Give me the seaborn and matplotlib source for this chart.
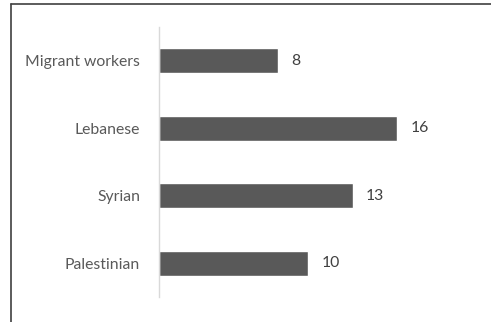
import matplotlib
matplotlib.use("Agg")
import matplotlib.pyplot as plt
import seaborn as sns
import pandas as pd
from matplotlib.lines import Line2D

categories = ["Migrant workers", "Lebanese", "Syrian", "Palestinian"]
values = [8, 16, 13, 10]

sns.set_theme(style="white")
plt.rcParams["font.family"] = ["Lato", "DejaVu Sans"]

W, H = 491, 322
fig = plt.figure(figsize=(W / 100, H / 100), dpi=100)
ax = fig.add_axes([159 / W, 1 - 297 / H, 298 / W, 270 / H])

df = pd.DataFrame({"category": categories, "value": values})
sns.barplot(data=df, x="value", y="category", orient="h", color="#595959",
            width=0.37, saturation=1, ax=ax)

ax.set_xlim(0, 20)
ax.set_ylim(3.5, -0.5)
ax.set_xlabel("")
ax.set_ylabel("")
ax.set_xticks([])
for s in ["top", "right", "bottom"]:
    ax.spines[s].set_visible(False)
ax.spines["left"].set_color("#d9d9d9")
ax.spines["left"].set_linewidth(1.0)
ax.tick_params(axis="y", length=0, pad=13.5, labelsize=11.3, labelcolor="#595959")

for i, v in enumerate(values):
    ax.text(v + 0.9, i, str(v), va="center", ha="left", fontsize=11.3, color="#404040")

# outer frame (partially visible)
fig.add_artist(Line2D([11 / W, 11 / W], [0, 1 - 4 / H], transform=fig.transFigure,
                      color="#404040", lw=1.2))
fig.add_artist(Line2D([11 / W, 1], [1 - 4 / H, 1 - 4 / H], transform=fig.transFigure,
                      color="#404040", lw=1.2))

fig.savefig("out.png", dpi=100)
